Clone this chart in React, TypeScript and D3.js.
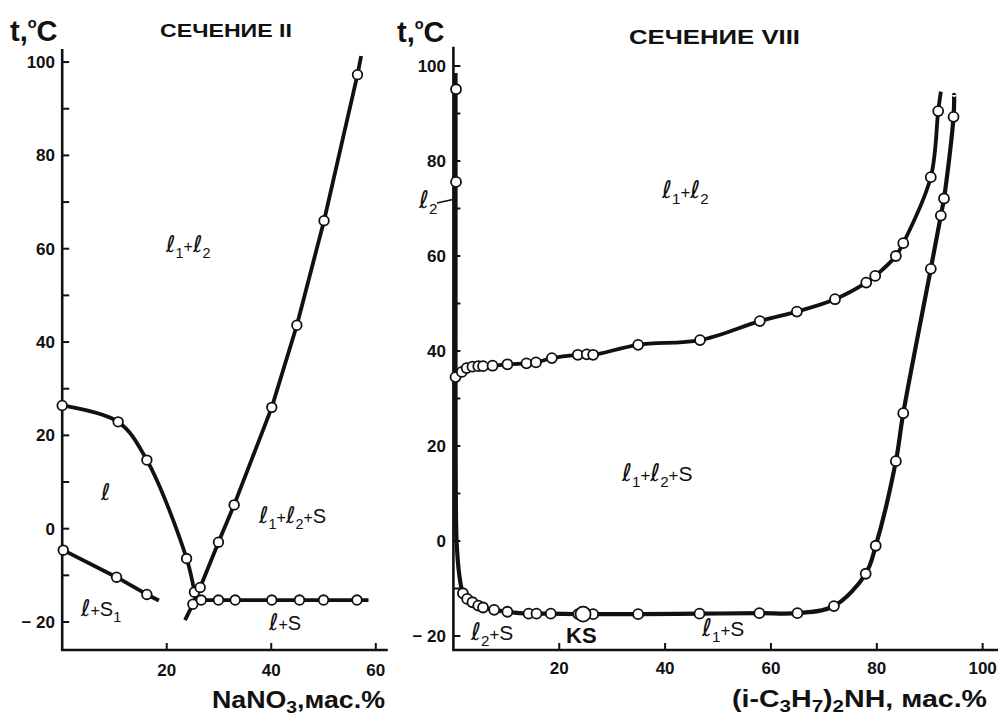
import React from "react";
import * as d3 from "d3";

const W = 998;
const H = 718;
const FONT = "'Liberation Sans', Arial, Helvetica, sans-serif";

type P = [number, number];

// ---------- Section II (NaNO3) ----------
const s2TempTicks = [-20, -10, 0, 10, 20, 30, 40, 50, 60, 70, 80, 90, 100];
const s2TempLabels = [-20, 0, 20, 40, 60, 80, 100];
const s2CompTicks = [20, 40, 60];

const s2Liquidus: P[] = [[0, 26.4], [10.7, 22.9], [16.2, 14.7], [23.8, -6.4], [25.3, -13.6]];
const s2LiquidusPts: P[] = [[0, 26.4], [10.7, 22.9], [16.2, 14.7], [23.8, -6.4], [25.3, -13.6]];

const s2Binodal: P[] = [[23.5, -19.6], [25.0, -16.2], [26.4, -12.6], [29.9, -2.9], [32.9, 5.1], [40.1, 26.0], [44.9, 43.6], [50.1, 66.0], [56.5, 97.3], [57.2, 101.3]];
const s2BinodalPts: P[] = [[25.0, -16.2], [26.4, -12.6], [29.9, -2.9], [32.9, 5.1], [40.1, 26.0], [44.9, 43.6], [50.1, 66.0], [56.5, 97.3]];

const s2Eutectic: P[] = [[25.2, -15.3], [58.6, -15.3]];
const s2EutecticPts: P[] = [[26.6, -15.3], [29.9, -15.3], [33.1, -15.3], [40.1, -15.3], [45.4, -15.3], [50.0, -15.3], [56.4, -15.3]];

const s2Lower: P[] = [[0.2, -4.6], [10.4, -10.4], [16.2, -14.1], [18.5, -15.4]];
const s2LowerPts: P[] = [[0.2, -4.6], [10.4, -10.4], [16.2, -14.1]];

// ---------- Section VIII ((i-C3H7)2NH) ----------
const s8TempTicks = [-20, -10, 0, 10, 20, 30, 40, 50, 60, 70, 80, 90, 100];
const s8TempLabels = [-20, 0, 20, 40, 60, 80, 100];
const s8CompTicks = [20, 40, 60, 80, 100];

const s8Solidus: P[] = [
  [0.4, 98.5], [0.4, 95.1], [0.4, 75.6], [0.4, 50], [0.4, 30], [0.45, 10], [0.6, 0], [1.1, -7],
  [1.8, -11.0], [2.6, -12.2], [3.6, -12.9], [4.7, -13.6], [5.6, -14.0], [7.7, -14.5], [10.2, -14.9],
  [14.2, -15.3], [15.7, -15.3], [18.4, -15.3], [23.6, -15.4], [24.5, -15.4], [26.4, -15.4],
  [34.9, -15.4], [46.5, -15.3], [57.8, -15.2], [65.0, -15.2], [71.9, -13.7], [77.9, -6.9],
  [79.8, -1.0], [83.6, 16.8], [85.0, 26.9], [90.2, 57.3], [92.1, 68.5], [92.7, 72.1],
  [94.5, 89.3], [94.6, 93.9],
];
const s8SolidusPts: P[] = [
  [0.5, 95.1], [0.5, 75.6],
  [1.8, -11.0], [2.6, -12.2], [3.6, -12.9], [4.7, -13.6], [5.6, -14.0], [7.7, -14.5], [10.2, -14.9],
  [14.2, -15.3], [15.7, -15.3], [18.4, -15.3], [23.6, -15.4], [26.4, -15.4],
  [34.9, -15.4], [46.5, -15.3], [57.8, -15.2], [65.0, -15.2], [71.9, -13.7], [77.9, -6.9],
  [79.8, -1.0], [83.6, 16.8], [85.0, 26.9], [90.2, 57.3], [92.1, 68.5], [92.7, 72.1], [94.5, 89.3],
];
const s8KS: P[] = [[24.5, -15.4]];

const s8Binodal: P[] = [
  [0.4, 34.5], [1.6, 35.6], [2.5, 36.4], [3.6, 36.7], [4.7, 36.8], [5.6, 36.8], [7.4, 36.9],
  [10.2, 37.2], [13.8, 37.4], [15.6, 37.6], [18.6, 38.5], [23.5, 39.2], [25.2, 39.3], [26.4, 39.2],
  [34.9, 41.3], [46.6, 42.3], [57.9, 46.3], [64.9, 48.3], [72.1, 50.9], [78.0, 54.4], [79.7, 55.8],
  [83.6, 60.0], [85.0, 62.7], [90.2, 76.6], [91.6, 90.5], [92.1, 94.6],
];
const s8BinodalPts: P[] = s8Binodal.slice(0, s8Binodal.length - 1);

// ---------- scales ----------
const x2 = d3.scaleLinear().domain([0, 62.3]).range([62.2, 387.8]);
const y2 = d3.scaleLinear().domain([-26, 102.8]).range([650, 49]);
const x8 = d3.scaleLinear().domain([0, 102.9]).range([453.4, 998]);
const y8 = d3.scaleLinear().domain([-22.95, 104.06]).range([650, 46.7]);

type Seg = { t: string; it?: boolean; sub?: boolean; sup?: boolean; small?: boolean };

function RichText({ x, y, segs, size, bold, anchor, textLength, subShift = 0.3, supSize = 0.72 }: { x: number; y: number; segs: Seg[]; size: number; bold?: boolean; anchor?: string; textLength?: number; subShift?: number; supSize?: number }) {
  let shift = 0;
  const spans = segs.map((s, i) => {
    const target = s.sub ? subShift * size : s.sup ? -0.45 * size : 0;
    const dy = target - shift;
    shift = target;
    const fs = s.sub ? size * 0.72 : s.sup ? size * supSize : s.small ? size * 0.8 : s.it ? size * 1.15 : size;
    return (
      <tspan key={i} dy={dy} fontSize={fs} fontStyle={s.it ? "italic" : "normal"} fontWeight={s.it ? "normal" : undefined} fontFamily={s.it ? "'DejaVu Sans', " + FONT : FONT}>
        {s.t}
      </tspan>
    );
  });
  return (
    <text x={x} y={y} fontSize={size} fontWeight={bold ? "bold" : "normal"} fill="#111" textAnchor={anchor || "start"}
      fontFamily={FONT} {...(textLength ? { textLength, lengthAdjust: "spacingAndGlyphs" } : {})}>
      {spans}
    </text>
  );
}

const L = (t: string): Seg => ({ t, it: true });
const Sub = (t: string): Seg => ({ t, sub: true });
const N = (t: string): Seg => ({ t });
const Plus: Seg = { t: "+", small: true };

function Axes({ xs, ys, tTicks, tLabels, cTicks, labelX, xLabelY }: any) {
  const [x0, x1] = xs.range();
  const [yb, yt] = ys.range();
  return (
    <g>
      <line x1={x0} x2={x0} y1={yt} y2={yb} stroke="#111" strokeWidth={2.6} />
      <line x1={x0 - 1.3} x2={x1} y1={yb} y2={yb} stroke="#111" strokeWidth={2.6} />
      {tTicks.map((t: number) => (
        <line key={"yt" + t} x1={x0} x2={x0 + 7} y1={ys(t)} y2={ys(t)} stroke="#111" strokeWidth={2} />
      ))}
      {tLabels.map((t: number) => (
        <text key={"yl" + t} x={labelX} y={ys(t) + 6} textAnchor="end" fontFamily={FONT} fontWeight="bold" fontSize={17} fill="#111">
          {t < 0 ? "− " + Math.abs(t) : t}
        </text>
      ))}
      {cTicks.map((c: number) => (
        <g key={"xt" + c}>
          <line x1={xs(c)} x2={xs(c)} y1={yb} y2={yb - 7} stroke="#111" strokeWidth={2} />
          <text x={xs(c)} y={xLabelY} textAnchor="middle" fontFamily={FONT} fontWeight="bold" fontSize={17} fill="#111">
            {c}
          </text>
        </g>
      ))}
    </g>
  );
}

function Curve({ data, xs, ys, w }: { data: P[]; xs: any; ys: any; w?: number }) {
  const gen = d3.line<P>().x((d) => xs(d[0])).y((d) => ys(d[1])).curve(d3.curveCatmullRom.alpha(0.5));
  return <path d={gen(data) || ""} fill="none" stroke="#111" strokeWidth={w || 3.8} strokeLinecap="butt" strokeLinejoin="round" />;
}

function Straight({ data, xs, ys, w }: { data: P[]; xs: any; ys: any; w?: number }) {
  const gen = d3.line<P>().x((d) => xs(d[0])).y((d) => ys(d[1]));
  return <path d={gen(data) || ""} fill="none" stroke="#111" strokeWidth={w || 3.8} strokeLinejoin="round" />;
}

function Dots({ data, xs, ys, r }: { data: P[]; xs: any; ys: any; r?: number }) {
  return (
    <g>
      {data.map((d, i) => (
        <circle key={i} cx={xs(d[0])} cy={ys(d[1])} r={r || 4.8} fill="#fff" stroke="#111" strokeWidth={1.8} />
      ))}
    </g>
  );
}

export default function App() {
  return (
    <svg width={W} height={H} viewBox={`0 0 ${W} ${H}`} style={{ position: "absolute", left: 0, top: 0, background: "#fff" }}>
      <rect x={0} y={0} width={W} height={H} fill="#fff" />

      {/* ===== Left panel ===== */}
      <Axes xs={x2} ys={y2} tTicks={s2TempTicks} tLabels={s2TempLabels} cTicks={s2CompTicks} labelX={55} xLabelY={676} />
      <Curve data={s2Liquidus} xs={x2} ys={y2} />
      <Straight data={s2Binodal} xs={x2} ys={y2} />
      <Straight data={s2Eutectic} xs={x2} ys={y2} />
      <Straight data={s2Lower} xs={x2} ys={y2} />
      <Dots data={s2LiquidusPts} xs={x2} ys={y2} />
      <Dots data={s2BinodalPts} xs={x2} ys={y2} />
      <Dots data={s2EutecticPts} xs={x2} ys={y2} />
      <Dots data={s2LowerPts} xs={x2} ys={y2} />

      <RichText x={10} y={41} size={29} bold supSize={0.5} segs={[N("t,"), { t: "o", sup: true }, N("C")]} />
      <RichText x={160} y={37} size={19} bold segs={[N("СЕЧЕНИЕ II")]} textLength={132} />
      <RichText x={212} y={708} size={24} bold subShift={0.2} segs={[N("NaNO"), Sub("3"), N(",мас.%")]} textLength={173} />

      <RichText x={166} y={252} size={20} segs={[L("ℓ"), Sub("1"), Plus, L("ℓ"), Sub("2")]} />
      <RichText x={101} y={500} size={20} segs={[L("ℓ")]} />
      <RichText x={259} y={523} size={20} segs={[L("ℓ"), Sub("1"), Plus, L("ℓ"), Sub("2"), Plus, N("S")]} />
      <RichText x={81} y={616} size={20} segs={[L("ℓ"), Plus, N("S"), Sub("1")]} />
      <RichText x={269} y={630} size={20} segs={[L("ℓ"), Plus, N("S")]} />

      {/* ===== Right panel ===== */}
      <Axes xs={x8} ys={y8} tTicks={s8TempTicks} tLabels={s8TempLabels} cTicks={s8CompTicks} labelX={446} xLabelY={674} />
      <Curve data={s8Solidus} xs={x8} ys={y8} w={4.2} />
      <Curve data={s8Binodal} xs={x8} ys={y8} />
      <Dots data={s8SolidusPts} xs={x8} ys={y8} r={5} />
      <Dots data={s8BinodalPts} xs={x8} ys={y8} r={5} />
      <Dots data={s8KS} xs={x8} ys={y8} r={7.5} />

      <RichText x={397} y={42} size={29} bold supSize={0.5} segs={[N("t,"), { t: "o", sup: true }, N("C")]} />
      <RichText x={629} y={44} size={21} bold segs={[N("СЕЧЕНИЕ VIII")]} textLength={171} />
      <RichText x={732} y={707} size={24} bold subShift={0.22}
        segs={[N("(i-C"), Sub("3"), N("H"), Sub("7"), N(")"), Sub("2"), N("NH, мас.%")]} textLength={255} />

      <RichText x={662} y={198} size={21} segs={[L("ℓ"), Sub("1"), Plus, L("ℓ"), Sub("2")]} />
      <RichText x={622} y={481} size={21} segs={[L("ℓ"), Sub("1"), Plus, L("ℓ"), Sub("2"), Plus, N("S")]} />
      <RichText x={471} y={640} size={21} segs={[L("ℓ"), Sub("2"), Plus, N("S")]} />
      <RichText x={566} y={643} size={22} bold segs={[N("KS")]} />
      <RichText x={702} y={636} size={21} segs={[L("ℓ"), Sub("1"), Plus, N("S")]} />
      <RichText x={419} y={208} size={21} segs={[L("ℓ"), Sub("2")]} />
      <line x1={437} x2={455} y1={203} y2={199} stroke="#111" strokeWidth={1.5} />
    </svg>
  );
}
